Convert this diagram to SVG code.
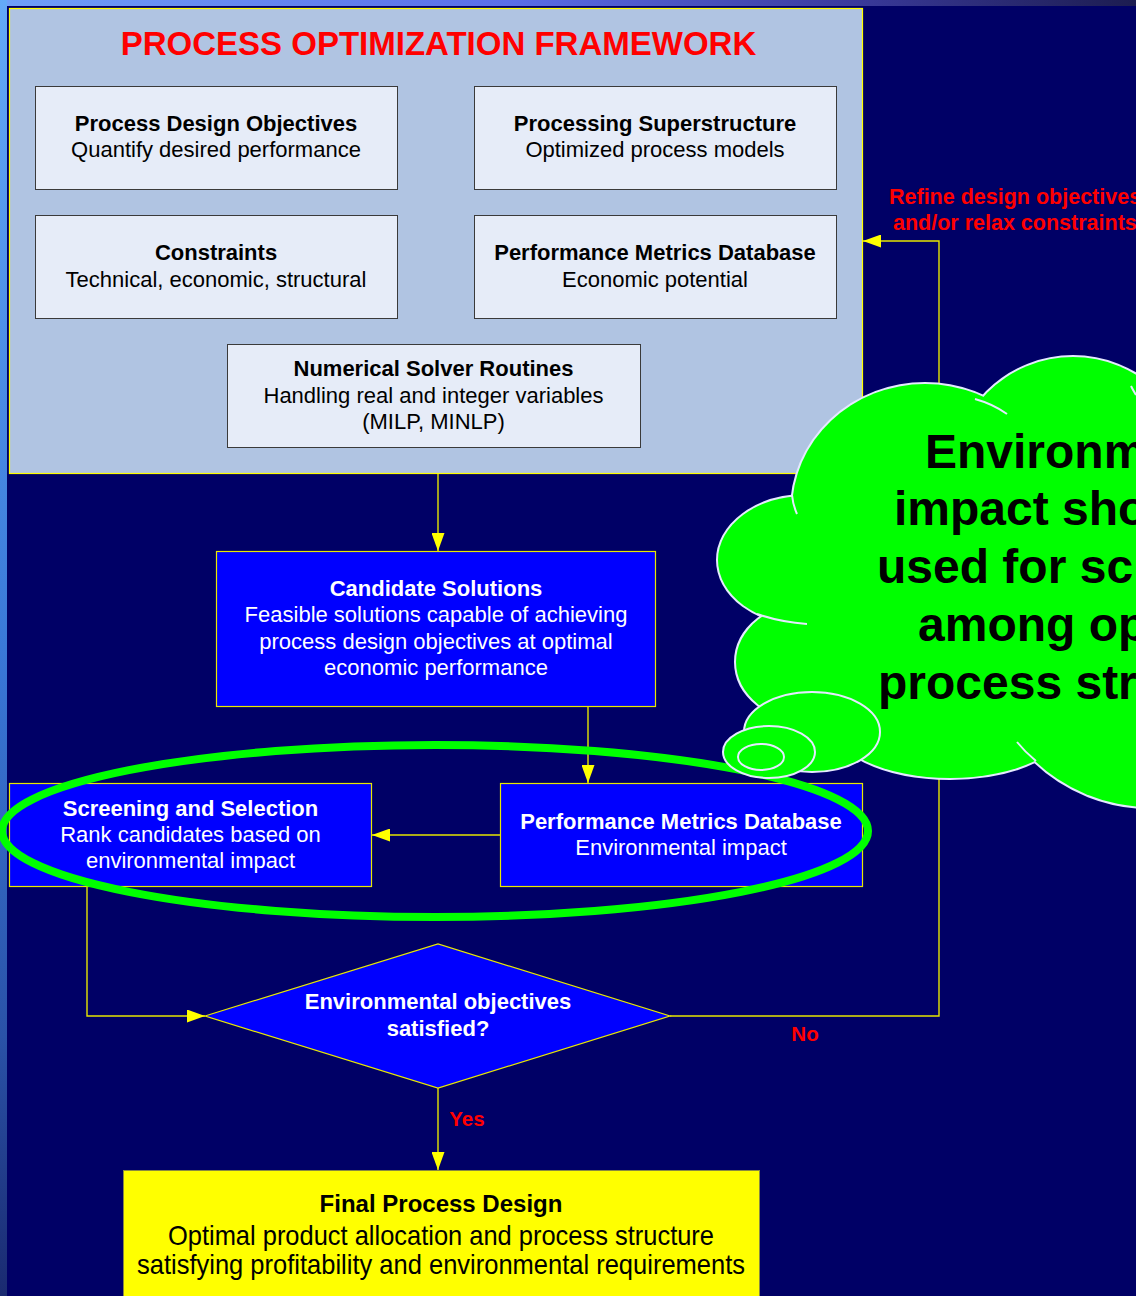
<svg xmlns="http://www.w3.org/2000/svg" width="1136" height="1296" viewBox="0 0 1136 1296">
  <defs>
    <linearGradient id="topStrip" x1="0" y1="0" x2="1" y2="0">
      <stop offset="0" stop-color="#6fa0f8"/>
      <stop offset="0.45" stop-color="#5a6ee8"/>
      <stop offset="0.75" stop-color="#3a3a9c"/>
      <stop offset="1" stop-color="#1c1c50"/>
    </linearGradient>
    <linearGradient id="leftStrip" x1="0" y1="0" x2="0" y2="1">
      <stop offset="0" stop-color="#64aaf8"/>
      <stop offset="0.5" stop-color="#3a78d8"/>
      <stop offset="0.8" stop-color="#2a52a8"/>
      <stop offset="1" stop-color="#1a2a70"/>
    </linearGradient>
    <marker id="ah" markerUnits="userSpaceOnUse" markerWidth="18" markerHeight="13" viewBox="0 0 18 13" refX="18" refY="6.5" orient="auto">
      <path d="M0,0 L18,6.5 L0,13 z" fill="#FFFF00"/>
    </marker>
    <style>
      text { font-family: "Liberation Sans", Arial, sans-serif; text-anchor: middle; }
      .b { font-weight: bold; }
      .fw { font-size: 22px; fill: #000; }
      .inner { fill: #E6ECF8; stroke: #3a3a3a; stroke-width: 1; }
      .blue { fill: #0000FF; stroke: #E8E800; stroke-width: 1.2; }
      .wt { font-size: 22px; fill: #FFFFFF; }
      .conn { fill: none; stroke: #E6E600; stroke-width: 1.4; }
      .lbl { font-size: 20.5px; font-weight: bold; fill: #FF0000; }
      .rl { font-size: 21.5px; font-weight: bold; fill: #FF0000; text-anchor: start; }
      .lobe { fill: #00FF00; stroke: #E4EAFF; stroke-width: 4; }
      .lobefill { fill: #00FF00; stroke: none; }
      .hook { fill: none; stroke: #E4EAFF; stroke-width: 2; }
      .bub { fill: #00FF00; stroke: #E4EAFF; stroke-width: 2; }
      .ct { font-size: 48px; font-weight: bold; fill: #000; text-anchor: start; }
    </style>
  </defs>

  <!-- background -->
  <rect x="0" y="0" width="1136" height="1296" fill="#000066"/>
  <rect x="0" y="0" width="1136" height="6" fill="url(#topStrip)"/>
  <rect x="0" y="0" width="7" height="1296" fill="url(#leftStrip)"/>

  <!-- framework container -->
  <g id="framework">
    <rect x="9.5" y="8.5" width="853" height="465" fill="#B0C4E2" stroke="#FFFF00" stroke-width="1.2"/>
    <text x="438.5" y="55" class="b" font-size="33" fill="#FF0000">PROCESS OPTIMIZATION FRAMEWORK</text>
  </g>

  <g id="process-design-objectives">
    <rect x="35.5" y="86.5" width="362" height="103" class="inner"/>
    <text x="216" y="131" class="fw b">Process Design Objectives</text>
    <text x="216" y="157" class="fw">Quantify desired performance</text>
  </g>
  <g id="processing-superstructure">
    <rect x="474.5" y="86.5" width="362" height="103" class="inner"/>
    <text x="655" y="131" class="fw b">Processing Superstructure</text>
    <text x="655" y="157" class="fw">Optimized process models</text>
  </g>
  <g id="constraints">
    <rect x="35.5" y="215.5" width="362" height="103" class="inner"/>
    <text x="216" y="260" class="fw b">Constraints</text>
    <text x="216" y="287" class="fw">Technical, economic, structural</text>
  </g>
  <g id="pmd-economic">
    <rect x="474.5" y="215.5" width="362" height="103" class="inner"/>
    <text x="655" y="260" class="fw b">Performance Metrics Database</text>
    <text x="655" y="287" class="fw">Economic potential</text>
  </g>
  <g id="numerical-solver">
    <rect x="227.5" y="344.5" width="413" height="103" class="inner"/>
    <text x="433.5" y="376" class="fw b">Numerical Solver Routines</text>
    <text x="433.5" y="403" class="fw">Handling real and integer variables</text>
    <text x="433.5" y="429" class="fw">(MILP, MINLP)</text>
  </g>

  <!-- lower nodes -->
  <g id="candidate-solutions">
    <rect x="216.5" y="551.5" width="439" height="155" class="blue"/>
    <text x="436" y="596" class="wt b">Candidate Solutions</text>
    <text x="436" y="622" class="wt">Feasible solutions capable of achieving</text>
    <text x="436" y="649" class="wt">process design objectives at optimal</text>
    <text x="436" y="675" class="wt">economic performance</text>
  </g>
  <g id="screening-selection">
    <rect x="9.5" y="783.5" width="362" height="103" class="blue"/>
    <text x="190.5" y="816" class="wt b">Screening and Selection</text>
    <text x="190.5" y="842" class="wt">Rank candidates based on</text>
    <text x="190.5" y="868" class="wt">environmental impact</text>
  </g>
  <g id="pmd-environmental">
    <rect x="500.5" y="783.5" width="362" height="103" class="blue"/>
    <text x="681" y="829" class="wt b">Performance Metrics Database</text>
    <text x="681" y="855" class="wt">Environmental impact</text>
  </g>
  <g id="decision">
    <polygon points="205,1016 438,944 670,1016 438,1088" class="blue"/>
    <text x="438" y="1009" class="wt b">Environmental objectives</text>
    <text x="438" y="1036" class="wt b">satisfied?</text>
  </g>
  <g id="final-design">
    <rect x="123.5" y="1170.5" width="636" height="140" fill="#FFFF00" stroke="#8a8a40" stroke-width="1"/>
    <text x="441" y="1212" class="b" font-size="24" fill="#000">Final Process Design</text>
    <text x="441" y="1245" font-size="28" fill="#000" textLength="546" lengthAdjust="spacingAndGlyphs">Optimal product allocation and process structure</text>
    <text x="441" y="1274" font-size="28" fill="#000" textLength="608" lengthAdjust="spacingAndGlyphs">satisfying profitability and environmental requirements</text>
  </g>

  <!-- connectors -->
  <g id="connectors">
    <path d="M438,474 V551" class="conn" marker-end="url(#ah)"/>
    <path d="M588,707 V783" class="conn" marker-end="url(#ah)"/>
    <path d="M500,835 H372" class="conn" marker-end="url(#ah)"/>
    <path d="M87,887 V1016 H205" class="conn" marker-end="url(#ah)"/>
    <path d="M670,1016 H939 V241 H863" class="conn" marker-end="url(#ah)"/>
    <path d="M438,1088 V1170" class="conn" marker-end="url(#ah)"/>
    <text x="889" y="204" class="rl">Refine design objectives</text>
    <text x="893" y="230" class="rl">and/or relax constraints</text>
    <text x="805" y="1041" class="lbl">No</text>
    <text x="467" y="1126" class="lbl">Yes</text>
  </g>

  <!-- green highlight ellipse -->
  <g id="highlight">
    <ellipse cx="435" cy="831" rx="433" ry="86" fill="none" stroke="#00FF00" stroke-width="8"/>
  </g>

  <!-- thought cloud -->
  <g id="cloud">
    <ellipse cx="925" cy="510" rx="133" ry="126" class="lobe"/>
    <circle cx="1073" cy="478" r="121" class="lobe"/>
    <ellipse cx="805" cy="560" rx="87" ry="64" class="lobe"/>
    <ellipse cx="812" cy="662" rx="76" ry="60" class="lobe"/>
    <ellipse cx="950" cy="720" rx="120" ry="58" class="lobe"/>
    <circle cx="1150" cy="640" r="167" class="lobe"/>
    <ellipse cx="925" cy="510" rx="133" ry="126" class="lobefill"/>
    <circle cx="1073" cy="478" r="121" class="lobefill"/>
    <ellipse cx="805" cy="560" rx="87" ry="64" class="lobefill"/>
    <ellipse cx="812" cy="662" rx="76" ry="60" class="lobefill"/>
    <ellipse cx="950" cy="720" rx="120" ry="58" class="lobefill"/>
    <circle cx="1150" cy="640" r="167" class="lobefill"/>
    <ellipse cx="960" cy="580" rx="170" ry="150" class="lobefill"/>
    <path d="M975,399 Q993,404 1007,414" class="hook"/>
    <path d="M792,495 Q793,505 797,514" class="hook"/>
    <path d="M757,614 Q780,622 807,624" class="hook"/>
    <path d="M1017,742 Q1025,752 1036,761" class="hook"/>
    <path d="M1131,386 Q1133,390 1136,395" class="hook"/>
    <ellipse cx="812" cy="732" rx="68" ry="40" class="bub"/>
    <ellipse cx="769" cy="752" rx="46" ry="26" class="bub"/>
    <ellipse cx="761" cy="757" rx="23" ry="13" class="bub"/>
    <text x="925" y="468" class="ct">Environm</text>
    <text x="894" y="525" class="ct">impact sho</text>
    <text x="877" y="583" class="ct">used for sc</text>
    <text x="918" y="641" class="ct">among op</text>
    <text x="878" y="699" class="ct">process str</text>
  </g>
</svg>
